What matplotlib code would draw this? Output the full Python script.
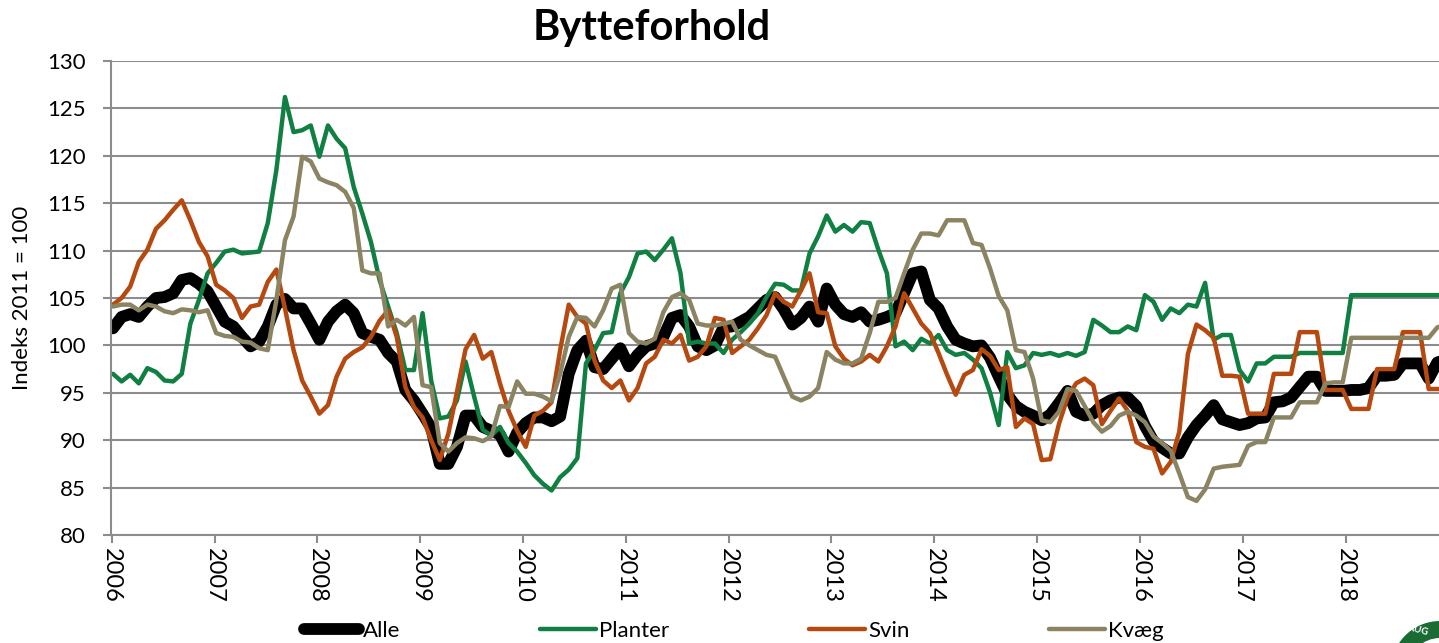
import numpy as np
import matplotlib
matplotlib.use("Agg")
import matplotlib.pyplot as plt
from matplotlib.patches import Ellipse

# monthly index values, Jan 2006 .. Dec 2018
years = [str(y) for y in range(2006, 2019)]

alle = [101.8, 103.0, 103.3, 103.0, 104.1, 105.0, 105.1, 105.5, 106.9, 107.1, 106.5, 105.7,
        104.1, 102.5, 102.0, 100.9, 99.9, 100.4, 102.0, 104.3, 104.9, 103.9, 103.9, 102.3,
        100.6, 102.5, 103.6, 104.3, 103.4, 101.3, 100.9, 100.6, 99.2, 98.3, 95.3, 94.2,
        92.8, 91.3, 87.5, 87.5, 89.3, 92.6, 92.6, 91.4, 91.0, 90.6, 88.8, 90.8,
        91.8, 92.4, 92.4, 92.0, 92.5, 97.0, 99.5, 100.5, 97.7, 97.5, 98.6, 99.7,
        97.8, 99.0, 99.9, 100.2, 100.9, 102.9, 103.2, 102.0, 99.9, 99.5, 100.0, 101.9,
        102.0, 102.5, 103.0, 103.9, 104.8, 105.1, 103.8, 102.2, 102.9, 104.1, 102.5, 106.0,
        104.3, 103.3, 103.0, 103.5, 102.5, 102.7, 103.0, 103.4, 105.5, 107.6, 107.8, 104.8,
        103.9, 102.0, 100.6, 100.2, 99.9, 100.0, 98.7, 96.7, 94.8, 93.6, 93.0, 92.6,
        92.1, 92.7, 93.9, 95.2, 93.0, 92.6, 92.8, 93.7, 94.2, 94.5, 94.5, 93.6,
        91.5, 89.9, 89.2, 88.6, 88.6, 90.3, 91.6, 92.6, 93.7, 92.2, 91.9, 91.6,
        91.8, 92.3, 92.4, 94.0, 94.1, 94.5, 95.6, 96.7, 96.7, 95.2, 95.2, 95.2,
        95.3, 95.3, 95.5, 96.8, 96.8, 96.9, 98.1, 98.1, 98.1, 96.5, 98.2, 98.5]

planter = [97.0, 96.2, 96.9, 96.0, 97.6, 97.2, 96.3, 96.2, 97.0, 102.3, 104.8, 107.6,
           108.7, 109.9, 110.1, 109.7, 109.8, 109.9, 112.9, 118.5, 126.2, 122.5, 122.7, 123.2,
           119.9, 123.2, 121.8, 120.8, 116.7, 113.9, 110.9, 106.9, 104.1, 101.3, 97.4, 97.4,
           103.4, 96.3, 92.3, 92.5, 94.2, 98.3, 94.6, 91.1, 90.5, 91.4, 89.7, 88.8,
           87.6, 86.3, 85.4, 84.7, 86.1, 86.9, 88.1, 98.1, 99.5, 101.3, 101.4, 105.5,
           107.2, 109.7, 109.9, 109.0, 110.1, 111.3, 107.6, 100.2, 100.4, 100.2, 100.2, 99.2,
           100.6, 101.4, 102.3, 103.4, 105.1, 106.5, 106.4, 105.8, 105.8, 109.7, 111.5, 113.7,
           112.0, 112.7, 112.0, 113.0, 112.9, 110.1, 107.6, 99.9, 100.4, 99.5, 100.7, 100.2,
           101.1, 99.5, 99.0, 99.2, 98.5, 97.6, 95.0, 91.6, 99.3, 97.6, 97.9, 99.2,
           99.0, 99.2, 98.9, 99.2, 98.9, 99.3, 102.7, 102.1, 101.4, 101.4, 102.0, 101.6,
           105.3, 104.6, 102.7, 103.9, 103.4, 104.3, 104.1, 106.6, 100.6, 101.1, 101.1, 97.4,
           96.2, 98.1, 98.1, 98.8, 98.8, 98.8, 99.2, 99.2, 99.2, 99.2, 99.2, 99.2,
           105.3, 105.3, 105.3, 105.3, 105.3, 105.3, 105.3, 105.3, 105.3, 105.3, 105.3, 105.3]

svin = [104.3, 105.0, 106.2, 108.8, 110.1, 112.3, 113.2, 114.3, 115.3, 113.2, 110.9, 109.4,
        106.4, 105.8, 105.0, 102.9, 104.1, 104.3, 106.7, 108.0, 103.9, 99.5, 96.3, 94.6,
        92.8, 93.7, 96.7, 98.6, 99.3, 99.8, 100.9, 102.6, 103.7, 100.9, 95.6, 93.5,
        92.4, 90.0, 87.9, 90.7, 95.1, 99.6, 101.1, 98.6, 99.3, 96.0, 93.1, 91.0,
        89.3, 92.6, 93.1, 94.0, 99.5, 104.3, 103.0, 102.3, 98.4, 96.3, 95.5, 96.3,
        94.2, 95.5, 98.1, 98.8, 100.6, 100.2, 101.1, 98.4, 98.8, 99.9, 102.9, 102.7,
        99.2, 99.9, 100.6, 101.8, 103.2, 105.5, 104.6, 104.1, 105.8, 107.6, 103.5, 103.4,
        99.9, 98.6, 97.9, 98.3, 99.0, 98.3, 99.9, 102.0, 105.5, 103.9, 102.3, 101.3,
        99.2, 96.9, 94.8, 96.9, 97.4, 99.6, 98.9, 97.4, 97.7, 91.4, 92.3, 91.7,
        87.9, 88.0, 91.7, 94.5, 96.0, 96.5, 95.8, 91.7, 93.1, 94.4, 93.1, 89.8,
        89.3, 89.1, 86.5, 87.7, 90.9, 99.1, 102.2, 101.6, 100.8, 96.8, 96.8, 96.7,
        92.8, 92.8, 92.8, 97.0, 97.0, 97.0, 101.4, 101.4, 101.4, 95.3, 95.3, 95.3,
        93.3, 93.3, 93.3, 97.5, 97.5, 97.5, 101.4, 101.4, 101.4, 95.4, 95.4, 95.4]

kvaeg = [104.1, 104.3, 104.3, 103.7, 104.3, 104.1, 103.6, 103.4, 103.8, 103.7, 103.5, 103.7,
         101.3, 101.0, 100.9, 100.4, 100.3, 99.7, 99.5, 104.8, 111.1, 113.6, 119.9, 119.4,
         117.6, 117.2, 116.9, 116.2, 114.5, 107.9, 107.6, 107.6, 102.0, 102.7, 102.1, 103.0,
         95.8, 95.6, 89.7, 88.8, 89.7, 90.3, 90.2, 89.9, 90.4, 93.6, 93.5, 96.2,
         94.9, 94.9, 94.6, 94.1, 97.0, 100.9, 103.0, 102.9, 102.0, 103.7, 106.0, 106.4,
         101.3, 100.4, 100.2, 100.7, 103.5, 105.1, 105.5, 104.8, 102.3, 102.1, 102.1, 102.3,
         102.5, 100.6, 100.0, 99.5, 99.0, 98.8, 96.7, 94.6, 94.2, 94.6, 95.5, 99.3,
         98.5, 98.1, 98.1, 98.6, 101.3, 104.6, 104.6, 105.0, 107.6, 110.1, 111.8, 111.8,
         111.6, 113.2, 113.2, 113.2, 110.8, 110.6, 108.1, 105.2, 103.7, 99.5, 99.3, 96.5,
         92.1, 91.9, 93.0, 95.4, 95.2, 93.6, 91.9, 90.9, 91.5, 92.6, 93.0, 92.6,
         91.9, 90.4, 89.7, 88.9, 86.5, 84.0, 83.6, 84.8, 87.0, 87.2, 87.3, 87.4,
         89.4, 89.8, 89.8, 92.4, 92.4, 92.4, 94.0, 94.0, 94.0, 96.0, 96.1, 96.1,
         100.8, 100.8, 100.8, 100.8, 100.8, 100.8, 100.8, 100.8, 100.8, 100.8, 101.9, 102.2]

months = np.arange(len(alle))
# year marks sit a touch left of the January points in the source chart
year_ticks = -0.15 + 11.957 * np.arange(len(years))

GRID = "#8c8c8c"
LOGO_GREEN = "#1b6b34"
W, H = 1439, 643

plt.rcParams["font.family"] = ["Lato", "DejaVu Sans"]

fig = plt.figure(figsize=(W / 100, H / 100), dpi=100)
ax = fig.add_axes([111 / W, 108 / H, 1 - 111 / W, 474 / H])

style = dict(solid_joinstyle="round", solid_capstyle="round")
ax.plot(months, alle, color="black", lw=8.5, label="Alle", **style)
ax.plot(months, planter, color="#0f8041", lw=3.2, label="Planter", **style)
ax.plot(months, svin, color="#b5490f", lw=3.2, label="Svin", **style)
ax.plot(months, kvaeg, color="#8b8462", lw=3.2, label="Kvæg", **style)

ax.set_xlim(-0.23, 154.2)
ax.set_ylim(80, 130)
ax.set_yticks(np.arange(80, 131, 5))
ax.set_xticks(year_ticks, years, rotation=270)
ax.yaxis.grid(True, color=GRID, lw=1.5)
ax.set_axisbelow(True)
for side in ["top", "right"]:
    ax.spines[side].set_visible(False)
for side in ["left", "bottom"]:
    ax.spines[side].set_color(GRID)
    ax.spines[side].set_linewidth(1.5)
ax.tick_params(axis="y", length=6, width=1.5, color=GRID, pad=12, labelsize=16)
ax.tick_params(axis="x", length=6, width=1.5, color=GRID, pad=3, labelsize=17)

fig.text(22 / W, 1 - 298 / H, "Indeks 2011 = 100", rotation=90,
         ha="center", va="center", fontsize=16)
fig.text(652 / W, 1 - 28 / H, "Bytteforhold", ha="center", va="center",
         fontsize=30, fontweight="bold")

fig.legend(loc="center", bbox_to_anchor=(0.51, 1 - 631 / H), ncol=4, frameon=False,
           fontsize=16, handlelength=2.5, handletextpad=0.15, columnspacing=6.3)

# corner of the publisher's round logo, cut off by the image edge
logo_c = (1440 / W, 1 - 670 / H)
fig.patches.append(Ellipse(logo_c, 2 * 49 / W, 2 * 49 / H, transform=fig.transFigure,
                           facecolor=LOGO_GREEN, edgecolor="none"))
fig.patches.append(Ellipse(logo_c, 2 * 32 / W, 2 * 32 / H, transform=fig.transFigure,
                           facecolor="white", edgecolor="none"))
fig.text(1418 / W, 1 - 630 / H, "RUG", color="white", fontsize=7, fontweight="bold",
         ha="center", va="center", rotation=-15)

fig.savefig("out.png", dpi=100)
print("Saved: out.png")
